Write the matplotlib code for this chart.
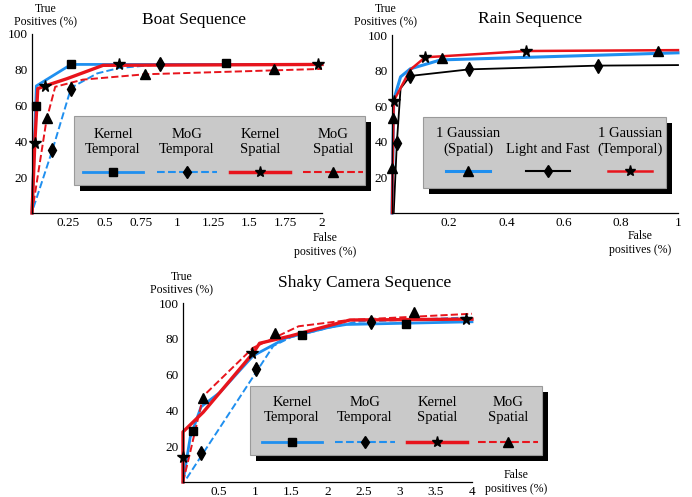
import matplotlib
matplotlib.use("Agg")
import matplotlib.pyplot as plt
from matplotlib.lines import Line2D
from matplotlib.patches import Rectangle

plt.rcParams['font.family'] = ['Liberation Serif', 'DejaVu Serif']

BLUE = '#1f8fef'
RED = '#e8141c'

# ---- Boat sequence ----
boat_kt_x = [0, 0.03, 0.27, 2.0]
boat_kt_y = [0, 71, 83, 83]
boat_kt_mx = [0.03, 0.27, 1.34]
boat_kt_my = [60, 83, 84]

boat_mt_x = [0.01, 0.14, 0.27, 0.45, 0.6, 0.88, 2.0]
boat_mt_y = [3, 35, 70, 78, 81, 83, 83]
boat_mt_mx = [0.14, 0.27, 0.88]
boat_mt_my = [35, 69, 83]

boat_ks_x = [0, 0.02, 0.04, 0.09, 0.24, 0.49, 2.0]
boat_ks_y = [0, 40, 69.5, 71, 75, 82.5, 83]
boat_ks_mx = [0.02, 0.09, 0.6, 1.97]
boat_ks_my = [39, 71, 83, 83.5]

boat_ms_x = [0, 0.1, 0.16, 0.35, 0.78, 2.0]
boat_ms_y = [0, 52, 70.5, 74.5, 77.5, 80.5]
boat_ms_mx = [0.1, 0.78, 1.67]
boat_ms_my = [53, 77.5, 80.5]

boat_xticks = [0.25, 0.5, 0.75, 1, 1.25, 1.5, 1.75, 2]
boat_xlabels = ['0.25', '0.5', '0.75', '1', '1.25', '1.5', '1.75', '2']

# ---- Rain sequence ----
rain_gs_x = [0, 0.006, 0.03, 0.064, 0.17, 1.0]
rain_gs_y = [0, 63.5, 76.5, 81, 86, 90]
rain_gs_mx = [0.0, 0.002, 0.174, 0.93]
rain_gs_my = [25.5, 53.5, 87, 91]

rain_lf_x = [0.006, 0.017, 0.03, 0.064, 0.27, 0.72, 1.0]
rain_lf_y = [0, 39.5, 70, 77, 80.7, 82.8, 83.1]
rain_lf_mx = [0.017, 0.064, 0.27, 0.72]
rain_lf_my = [39.5, 77, 80.7, 82.8]

rain_gt_x = [0, 0.006, 0.064, 0.116, 0.17, 0.47, 1.0]
rain_gt_y = [0, 63, 80.5, 87.5, 88, 91, 91.5]
rain_gt_mx = [0.006, 0.116, 0.47]
rain_gt_my = [63, 87.5, 91]

rain_xticks = [0.2, 0.4, 0.6, 0.8, 1]
rain_xlabels = ['0.2', '0.4', '0.6', '0.8', '1']

# ---- Shaky camera sequence ----
shaky_kt_x = [0, 0.1, 0.25, 0.51, 0.97, 1.43, 2.03, 2.26, 4.0]
shaky_kt_y = [0, 25, 42, 50, 70.5, 80.5, 86.5, 88, 89.5]
shaky_kt_mx = [0.14, 1.65, 3.09]
shaky_kt_my = [28.5, 82, 88.5]

shaky_mt_x = [0.05, 1.25, 1.5, 2.0, 2.4, 4.0]
shaky_mt_y = [2, 76, 81, 86, 89.5, 92]
shaky_mt_mx = [0.25, 1.01, 2.6]
shaky_mt_my = [16, 63, 89.5]

shaky_ks_x = [0, 0, 0.28, 0.97, 1.06, 1.48, 2.31, 4.0]
shaky_ks_y = [0, 28, 39, 72, 77.5, 81.5, 90.5, 91]
shaky_ks_mx = [0.0, 0.95, 3.92]
shaky_ks_my = [14, 72, 91]

shaky_ms_x = [0, 0.09, 0.28, 0.97, 1.6, 2.3, 4.0]
shaky_ms_y = [0, 15, 48, 75, 87, 90.5, 94]
shaky_ms_mx = [0.28, 1.27, 3.2]
shaky_ms_my = [47, 83, 95]

shaky_xticks = [0.5, 1, 1.5, 2, 2.5, 3, 3.5, 4]
shaky_xlabels = ['0.5', '1', '1.5', '2', '2.5', '3', '3.5', '4']

y_ticks = [20, 40, 60, 80, 100]

four_labels = ['Kernel\nTemporal', 'MoG\nTemporal', 'Kernel\nSpatial', 'MoG\nSpatial']
four_styles = [(BLUE, '-', 's', 2.0), (BLUE, '--', 'd', 1.5),
               (RED, '-', '*', 2.5), (RED, '--', '^', 1.5)]
rain_labels = ['1 Gaussian\n(Spatial)', 'Light and Fast', '1 Gaussian\n(Temporal)']
rain_styles = [(BLUE, '-', '^', 2.2), ('black', '-', 'd', 1.5), (RED, '-', '*', 1.8)]

marker_size = {'s': 6, 'd': 7, '*': 8.5, '^': 7}

W, H = 692, 497
fig = plt.figure(figsize=(W / 100, H / 100), dpi=100)


def fx(px):
    return px / W


def fy(py):
    return 1 - py / H


def make_axes(left, top, right, bottom, xmax, xticks, xlabels):
    ax = fig.add_axes([fx(left), fy(bottom), fx(right) - fx(left), fy(top) - fy(bottom)])
    ax.set_xlim(0, xmax)
    ax.set_ylim(0, 100)
    for s in ['top', 'right']:
        ax.spines[s].set_visible(False)
    for s in ['left', 'bottom']:
        ax.spines[s].set_linewidth(0.9)
    ax.set_xticks(xticks)
    ax.set_xticklabels(xlabels)
    ax.set_yticks(y_ticks)
    ax.tick_params(length=0, labelsize=9.5, pad=3)
    ax.patch.set_alpha(0)
    return ax


def series(ax, x, y, mx, my, color, ls, marker, lw):
    ax.plot(x, y, color=color, ls=ls, lw=lw, clip_on=False, zorder=2)
    ax.plot(mx, my, ls='none', marker=marker, color='black', ms=marker_size[marker],
            clip_on=False, zorder=3)


def key_box(left, top, right, bottom, centers, text_y, line_y, half, labels, styles):
    fig.add_artist(Rectangle((fx(left + 6), fy(bottom + 6)), fx(right) - fx(left),
                             fy(top) - fy(bottom), transform=fig.transFigure,
                             facecolor='black', edgecolor='none', zorder=4))
    fig.add_artist(Rectangle((fx(left), fy(bottom)), fx(right) - fx(left),
                             fy(top) - fy(bottom), transform=fig.transFigure,
                             facecolor='#c9c9c9', edgecolor='#9a9a9a', lw=0.8, zorder=5))
    for cx, lab, (c, ls, m, lw) in zip(centers, labels, styles):
        fig.text(fx(cx), fy(text_y), lab, ha='center', va='bottom', fontsize=10.5,
                 linespacing=1.25, zorder=6)
        fig.add_artist(Line2D([fx(cx - half), fx(cx + half)], [fy(line_y), fy(line_y)],
                              transform=fig.transFigure, color=c, ls=ls, lw=lw, zorder=6))
        fig.add_artist(Line2D([fx(cx)], [fy(line_y)], transform=fig.transFigure,
                              marker=m, color='black', ms=marker_size[m] - 0.5,
                              ls='none', zorder=7))


def axis_names(tx, ty, bx, by):
    fig.text(fx(tx), fy(ty), 'True\nPositives (%)', ha='center', va='center',
             fontsize=8.5, linespacing=1.15)
    fig.text(fx(bx), fy(by), 'False\npositives (%)', ha='center', va='center',
             fontsize=8.5, linespacing=1.15)


# Boat
ax1 = make_axes(32, 34, 322, 213, 2, boat_xticks, boat_xlabels)
series(ax1, boat_kt_x, boat_kt_y, boat_kt_mx, boat_kt_my, BLUE, '-', 's', 2.0)
series(ax1, boat_mt_x, boat_mt_y, boat_mt_mx, boat_mt_my, BLUE, '--', 'd', 1.4)
series(ax1, boat_ks_x, boat_ks_y, boat_ks_mx, boat_ks_my, RED, '-', '*', 2.4)
series(ax1, boat_ms_x, boat_ms_y, boat_ms_mx, boat_ms_my, RED, '--', '^', 1.4)
fig.text(fx(194), fy(20), 'Boat Sequence', ha='center', va='center', fontsize=12.5)
axis_names(46, 16, 325, 245)
key_box(74, 116, 365, 185, [113, 187, 260, 333], 156, 172, 30, four_labels, four_styles)

# Rain
ax2 = make_axes(392, 35, 678, 213, 1, rain_xticks, rain_xlabels)
series(ax2, rain_gs_x, rain_gs_y, rain_gs_mx, rain_gs_my, BLUE, '-', '^', 2.2)
series(ax2, rain_lf_x, rain_lf_y, rain_lf_mx, rain_lf_my, 'black', '-', 'd', 1.3)
series(ax2, rain_gt_x, rain_gt_y, rain_gt_mx, rain_gt_my, RED, '-', '*', 1.8)
fig.text(fx(530), fy(19), 'Rain Sequence', ha='center', va='center', fontsize=12.5)
axis_names(386, 16, 640, 243)
key_box(423, 117, 666, 188, [468, 548, 630], 156, 171, 22, rain_labels, rain_styles)

# Shaky camera
ax3 = make_axes(183, 303, 472, 482, 4, shaky_xticks, shaky_xlabels)
series(ax3, shaky_kt_x, shaky_kt_y, shaky_kt_mx, shaky_kt_my, BLUE, '-', 's', 2.0)
series(ax3, shaky_mt_x, shaky_mt_y, shaky_mt_mx, shaky_mt_my, BLUE, '--', 'd', 1.4)
series(ax3, shaky_ks_x, shaky_ks_y, shaky_ks_mx, shaky_ks_my, RED, '-', '*', 2.4)
series(ax3, shaky_ms_x, shaky_ms_y, shaky_ms_mx, shaky_ms_my, RED, '--', '^', 1.4)
fig.text(fx(365), fy(283), 'Shaky Camera Sequence', ha='center', va='center', fontsize=12.5)
axis_names(182, 284, 516, 482)
key_box(250, 386, 542, 455, [292, 365, 437, 508], 424, 442, 30, four_labels, four_styles)

fig.savefig('out.png', dpi=100)
